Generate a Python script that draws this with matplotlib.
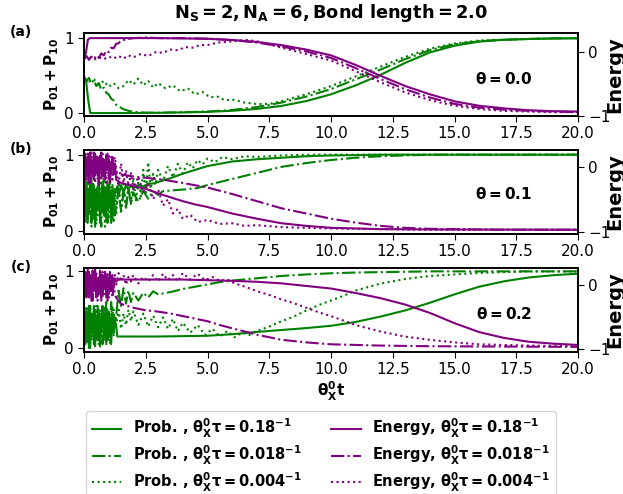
import matplotlib
matplotlib.use("Agg")
import matplotlib.pyplot as plt
from matplotlib.lines import Line2D

plt.rcParams['font.family'] = ['DejaVu Sans']
plt.rcParams['mathtext.default'] = 'bf'

# ---------------- data ----------------
t_early = [0.0, 0.05, 0.1, 0.15, 0.2, 0.25, 0.3, 0.35, 0.4, 0.45, 0.5, 0.55, 0.6, 0.65,
           0.7, 0.75, 0.8, 0.85, 0.9, 0.95, 1.0, 1.05, 1.1, 1.15, 1.2, 1.25, 1.3]

# ---- panel (a), theta = 0.0 ----
a_prob_solid_t = [0, 0.08, 0.16, 0.25, 0.5, 1, 2, 3, 4, 5, 6, 7, 8, 9, 10, 11, 12, 13, 14, 15, 16, 17, 18, 19, 20]
a_prob_solid = [0.48, 0.45, 0.2, 0.0, 0.0, 0.0, 0.0, 0.003, 0.008, 0.015, 0.03, 0.055, 0.095, 0.16, 0.25,
                0.37, 0.51, 0.67, 0.81, 0.9, 0.955, 0.98, 0.99, 0.995, 1.0]
a_prob_dd_t = [0, 0.1, 0.2, 0.3, 0.4, 0.5, 0.6, 0.7, 0.8, 0.9, 1.0, 1.1, 1.2, 1.3, 1.4, 1.6, 1.8, 2.0, 2.5,
               3, 4, 5, 6, 7, 8, 9, 10, 11, 12, 13, 14, 15, 16, 17, 18, 19, 20]
a_prob_dd = [0.48, 0.42, 0.47, 0.40, 0.44, 0.36, 0.40, 0.31, 0.34, 0.27, 0.25, 0.19, 0.17, 0.11, 0.09, 0.05,
             0.03, 0.015, 0.005, 0.003, 0.01, 0.02, 0.04, 0.08, 0.14, 0.22, 0.32, 0.45, 0.58, 0.72, 0.84,
             0.92, 0.96, 0.98, 0.99, 1.0, 1.0]
a_prob_dot_t = [0, 0.2, 0.4, 0.6, 0.8, 1.0, 1.2, 1.4, 1.6, 1.8, 2.0, 2.2, 2.4, 2.6, 2.8, 3.0, 3.3, 3.6, 3.9,
                4.2, 4.5, 4.8, 5.1, 5.4, 5.7, 6.0, 6.5, 7, 7.5, 8, 9, 10, 11, 12, 13, 14, 15, 16, 17, 18, 19, 20]
a_prob_dot = [0.46, 0.42, 0.45, 0.38, 0.43, 0.35, 0.40, 0.33, 0.36, 0.44, 0.38, 0.46, 0.37, 0.43, 0.34, 0.40,
              0.33, 0.37, 0.29, 0.33, 0.25, 0.28, 0.21, 0.22, 0.17, 0.18, 0.14, 0.12, 0.12, 0.16, 0.25, 0.36,
              0.49, 0.62, 0.75, 0.86, 0.93, 0.97, 0.98, 0.99, 1.0, 1.0]
a_en_solid_t = [0, 0.08, 0.16, 0.25, 1, 2, 3, 4, 5, 6, 7, 8, 9, 10, 11, 12, 13, 14, 15, 16, 17, 18, 19, 20]
a_en_solid = [-0.11, 0.0, 0.2, 0.22, 0.22, 0.22, 0.22, 0.215, 0.21, 0.19, 0.16, 0.11, 0.04, -0.05, -0.2,
              -0.37, -0.53, -0.66, -0.77, -0.84, -0.88, -0.91, -0.925, -0.93]
a_en_dd_t = [0, 0.1, 0.2, 0.3, 0.4, 0.5, 0.6, 0.7, 0.8, 0.9, 1.0, 1.1, 1.2, 1.3, 1.4, 1.5, 1.7, 2.0, 2.5,
             3, 4, 5, 6, 7, 8, 9, 10, 11, 12, 13, 14, 15, 16, 17, 18, 19, 20]
a_en_dd = [-0.1, -0.06, -0.12, -0.07, -0.11, -0.05, -0.09, -0.02, -0.05, 0.02, 0.0, 0.07, 0.06, 0.13, 0.14,
           0.18, 0.2, 0.22, 0.23, 0.22, 0.22, 0.21, 0.19, 0.15, 0.09, 0.01, -0.09, -0.25, -0.42, -0.58,
           -0.71, -0.81, -0.87, -0.9, -0.92, -0.93, -0.94]
a_en_dot_t = [0, 0.2, 0.4, 0.6, 0.8, 1.0, 1.2, 1.4, 1.6, 1.8, 2.0, 2.3, 2.6, 2.9, 3.2, 3.5, 3.8, 4.1, 4.4,
              4.7, 5.0, 5.4, 5.8, 6.2, 6.6, 7, 8, 9, 10, 11, 12, 13, 14, 15, 16, 17, 18, 19, 20]
a_en_dot = [-0.1, -0.08, -0.12, -0.08, -0.11, -0.07, -0.1, -0.06, -0.1, -0.05, -0.08, -0.03, -0.06, 0.0,
            -0.01, 0.04, 0.03, 0.08, 0.07, 0.11, 0.11, 0.15, 0.16, 0.18, 0.19, 0.17, 0.07, -0.03, -0.13,
            -0.3, -0.47, -0.63, -0.75, -0.84, -0.89, -0.92, -0.93, -0.94, -0.94]

# ---- panel (b), theta = 0.1 ----
b_prob_solid_t = t_early + [1.35, 1.4, 1.5, 1.6, 1.7, 1.8, 1.9, 2.0, 2.2, 2.4, 2.6, 2.8, 3.0, 3.5, 4, 4.5,
                            5, 5.5, 6, 7, 8, 9, 10, 12, 20]
b_prob_solid = [0.5, 0.2, 0.65, 0.1, 0.55, 0.3, 0.7, 0.15, 0.6, 0.05, 0.5, 0.35, 0.7, 0.1, 0.45, 0.6, 0.2,
                0.55, 0.15, 0.65, 0.3, 0.5, 0.1, 0.6, 0.25, 0.55, 0.5,
                0.58, 0.45, 0.6, 0.5, 0.6, 0.53, 0.6, 0.56, 0.6, 0.58, 0.62, 0.62, 0.64, 0.69, 0.75, 0.8,
                0.85, 0.88, 0.91, 0.94, 0.96, 0.98, 0.99, 1.0, 1.0]
b_prob_dd_t = t_early + [1.4, 1.5, 1.6, 1.7, 1.8, 1.9, 2.0, 2.2, 2.4, 2.6, 2.8, 3.0, 3.2, 4, 4.6, 5, 6, 7,
                         8, 9, 10, 11, 12, 13, 14, 20]
b_prob_dd = [0.4, 0.65, 0.1, 0.5, 0.25, 0.7, 0.05, 0.45, 0.6, 0.15, 0.55, 0.2, 0.65, 0.3, 0.05, 0.5, 0.7,
             0.2, 0.45, 0.1, 0.6, 0.35, 0.55, 0.15, 0.5, 0.2, 0.3,
             0.55, 0.25, 0.5, 0.3, 0.55, 0.35, 0.5, 0.38, 0.52, 0.42, 0.52, 0.47, 0.52, 0.54, 0.56, 0.6,
             0.68, 0.76, 0.84, 0.89, 0.93, 0.96, 0.98, 0.99, 1.0, 1.0]
b_prob_dot_t = t_early + [1.4, 1.5, 1.6, 1.7, 1.8, 1.9, 2.0, 2.1, 2.2, 2.3, 2.4, 2.5, 2.6, 2.7, 2.8, 2.9,
                          3.0, 3.2, 3.4, 3.6, 3.8, 4.0, 4.2, 4.4, 4.6, 4.8, 5.0, 5.3, 5.6, 6.0, 6.5, 7, 8,
                          9, 20]
b_prob_dot = [0.3, 0.1, 0.55, 0.7, 0.2, 0.45, 0.1, 0.65, 0.3, 0.55, 0.08, 0.6, 0.4, 0.15, 0.7, 0.25, 0.5,
              0.05, 0.6, 0.35, 0.15, 0.7, 0.3, 0.45, 0.1, 0.55, 0.2,
              0.6, 0.25, 0.65, 0.3, 0.6, 0.35, 0.7, 0.4, 0.65, 0.45, 0.8, 0.5, 0.9, 0.55, 0.75, 0.6, 0.8,
              0.65, 0.85, 0.7, 0.88, 0.75, 0.9, 0.82, 0.93, 0.87, 0.95, 0.9, 0.97, 0.94, 0.98, 0.97, 0.99,
              1.0, 1.0]
b_en_solid_t = t_early + [1.5, 2.0, 2.5, 3.0, 3.5, 4, 4.5, 5, 5.5, 6, 6.5, 7, 8, 9, 10, 11, 12, 14, 20]
b_en_solid = [0.05, 0.2, -0.15, 0.15, -0.25, 0.22, -0.05, 0.1, -0.2, 0.2, -0.1, 0.15, -0.28, 0.05, 0.22,
              -0.15, 0.1, -0.2, 0.18, -0.05, 0.12, -0.25, 0.0, 0.15, -0.1, 0.05, -0.2,
              -0.25, -0.3, -0.34, -0.41, -0.47, -0.53, -0.58, -0.62, -0.67, -0.72, -0.76, -0.8, -0.87,
              -0.91, -0.94, -0.95, -0.96, -0.965, -0.97]
b_en_dd_t = t_early + [1.5, 2.0, 2.5, 3.2, 4, 5, 6, 7, 8, 9, 10, 11, 12, 13, 14, 15, 17, 20]
b_en_dd = [0.0, -0.2, 0.15, -0.1, 0.2, -0.25, 0.1, -0.15, 0.22, -0.05, 0.15, -0.2, 0.05, 0.18, -0.12, 0.2,
           -0.18, 0.08, -0.05, 0.2, -0.2, 0.1, -0.1, 0.12, -0.15, 0.02, -0.1,
           -0.12, -0.15, -0.17, -0.2, -0.25, -0.32, -0.42, -0.53, -0.64, -0.72, -0.8, -0.86, -0.91,
           -0.94, -0.955, -0.96, -0.97, -0.97]
b_en_dot_t = t_early + [1.4, 1.5, 1.6, 1.7, 1.8, 1.9, 2.0, 2.2, 2.4, 2.6, 2.8, 3.0, 3.2, 3.4, 3.6, 3.8, 4.0,
                        4.3, 4.6, 5.0, 5.5, 6, 6.5, 7, 8, 9, 10, 12, 14, 20]
b_en_dot = [-0.05, 0.1, -0.2, 0.2, -0.1, 0.05, 0.22, -0.15, 0.1, -0.25, 0.18, 0.0, -0.1, 0.2, -0.2, 0.05,
            0.15, -0.08, -0.25, 0.1, 0.2, -0.1, 0.15, -0.2, 0.05, 0.15, 0.0,
            -0.3, 0.05, -0.25, -0.05, -0.3, -0.1, -0.35, -0.15, -0.4, -0.25, -0.5, -0.35, -0.6, -0.5,
            -0.72, -0.65, -0.8, -0.74, -0.85, -0.82, -0.88, -0.87, -0.91, -0.9, -0.93, -0.94, -0.95,
            -0.96, -0.97, -0.97]

# ---- panel (c), theta = 0.2 ----
c_prob_solid_t = t_early + [1.35, 1.5, 2, 3, 4, 5, 6, 7, 8, 9, 10, 11, 12, 13, 14, 15, 16, 17, 18, 19, 20]
c_prob_solid = [0.35, 0.05, 0.5, 0.1, 0.55, 0.0, 0.45, 0.2, 0.55, 0.05, 0.4, 0.1, 0.5, 0.02, 0.3, 0.55, 0.1,
                0.45, 0.05, 0.5, 0.15, 0.4, 0.05, 0.45, 0.2, 0.35, 0.3,
                0.15, 0.15, 0.15, 0.15, 0.155, 0.16, 0.18, 0.21, 0.235, 0.26, 0.29, 0.34, 0.41, 0.49, 0.59,
                0.7, 0.8, 0.87, 0.92, 0.95, 0.97]
c_prob_dd_t = t_early + [1.4, 1.5, 1.6, 1.7, 1.8, 1.9, 2.0, 2.2, 2.4, 2.6, 2.8, 3.0, 3.5, 4, 4.5, 5, 5.5, 6,
                         7, 8, 9, 10, 11, 12, 14, 20]
c_prob_dd = [0.3, 0.5, 0.1, 0.4, 0.0, 0.55, 0.15, 0.35, 0.05, 0.5, 0.25, 0.55, 0.1, 0.45, 0.2, 0.05, 0.5,
             0.3, 0.6, 0.1, 0.45, 0.25, 0.6, 0.2, 0.5, 0.3, 0.4,
             0.75, 0.55, 0.78, 0.58, 0.75, 0.6, 0.72, 0.62, 0.72, 0.66, 0.74, 0.7, 0.73, 0.77, 0.8, 0.83,
             0.86, 0.88, 0.91, 0.94, 0.96, 0.975, 0.985, 0.99, 1.0, 1.0]
c_prob_dot_t = t_early + [1.4, 1.5, 1.6, 1.7, 1.8, 1.9, 2.0, 2.2, 2.4, 2.6, 2.8, 3.0, 3.2, 3.4, 3.6, 3.8,
                          4.0, 4.3, 4.6, 4.9, 5.2, 5.5, 5.8, 6.1, 6.4, 6.7, 7.0, 7.5, 8, 8.5, 9, 9.5, 10,
                          10.5, 11, 12, 13, 14, 15, 16, 17, 18, 20]
c_prob_dot = [0.4, 0.2, 0.55, 0.05, 0.35, 0.5, 0.1, 0.3, 0.45, 0.0, 0.55, 0.25, 0.05, 0.4, 0.5, 0.15, 0.35,
              0.55, 0.1, 0.3, 0.5, 0.05, 0.35, 0.55, 0.15, 0.4, 0.3,
              0.5, 0.25, 0.45, 0.3, 0.5, 0.35, 0.48, 0.3, 0.45, 0.28, 0.42, 0.27, 0.4, 0.25, 0.38, 0.22,
              0.33, 0.2, 0.3, 0.17, 0.25, 0.15, 0.22, 0.14, 0.2, 0.17, 0.22, 0.28, 0.35, 0.41, 0.49, 0.56,
              0.62, 0.68, 0.75, 0.84, 0.9, 0.94, 0.96, 0.98, 0.99, 1.0, 1.0]
c_en_solid_t = t_early + [1.4, 2, 3, 4, 5, 6, 7, 8, 9, 10, 11, 12, 13, 14, 15, 16, 17, 18, 19, 20]
c_en_solid = [0.0, 0.2, -0.15, 0.25, -0.2, 0.15, -0.25, 0.22, -0.1, 0.25, -0.2, 0.1, -0.15, 0.22, -0.25,
              0.15, -0.05, 0.2, -0.2, 0.12, -0.15, 0.2, -0.1, 0.15, -0.05, 0.1, 0.05,
              0.08, 0.08, 0.08, 0.08, 0.07, 0.06, 0.045, 0.02, -0.02, -0.06, -0.13, -0.21, -0.31, -0.44,
              -0.6, -0.74, -0.83, -0.89, -0.92, -0.94]
c_en_dd_t = t_early + [1.5, 2, 2.5, 3, 3.5, 4, 4.5, 5, 5.5, 6, 6.5, 7, 7.5, 8, 9, 10, 12, 14, 20]
c_en_dd = [-0.05, 0.1, -0.2, 0.05, 0.2, -0.15, 0.1, -0.25, 0.15, -0.05, 0.2, -0.2, 0.05, -0.1, 0.18, -0.2,
           0.1, -0.05, 0.15, -0.25, 0.05, -0.1, 0.12, -0.2, 0.0, -0.15, -0.2,
           -0.3, -0.36, -0.4, -0.42, -0.45, -0.49, -0.53, -0.57, -0.63, -0.68, -0.73, -0.78, -0.82,
           -0.86, -0.9, -0.93, -0.95, -0.96, -0.97]
c_en_dot_t = t_early + [1.4, 1.5, 1.6, 1.7, 1.8, 1.9, 2.0, 2.2, 2.4, 2.6, 2.8, 3.0, 3.2, 3.4, 3.6, 3.8, 4.0,
                        4.3, 4.6, 4.9, 5.2, 5.5, 5.8, 6.1, 6.5, 7, 7.5, 8, 8.5, 9, 9.5, 10, 10.5, 11, 12,
                        13, 14, 15, 16, 17, 18, 20]
c_en_dot = [0.1, -0.1, 0.2, -0.2, 0.05, 0.15, -0.15, 0.0, 0.2, -0.1, 0.1, -0.25, 0.15, 0.05, -0.1, 0.2,
            -0.15, 0.1, 0.0, 0.2, -0.2, 0.1, 0.15, -0.1, 0.05, 0.15, 0.0,
            0.18, 0.05, 0.15, 0.0, 0.12, 0.05, 0.15, 0.02, 0.12, 0.05, 0.15, 0.05, 0.17, 0.07, 0.15, 0.05,
            0.18, 0.08, 0.17, 0.07, 0.12, 0.06, 0.08, 0.02, -0.03, -0.1, -0.16, -0.23, -0.29, -0.36,
            -0.43, -0.49, -0.56, -0.63, -0.73, -0.81, -0.86, -0.9, -0.93, -0.94, -0.95, -0.96]

theta_labels = ['0.0', '0.1', '0.2']
panel_letters = ['(a)', '(b)', '(c)']
tau_labels = ['0.18', '0.018', '0.004']
x_ticks = [0.0, 2.5, 5.0, 7.5, 10.0, 12.5, 15.0, 17.5, 20.0]

panels = [
    [(a_prob_solid_t, a_prob_solid), (a_prob_dd_t, a_prob_dd), (a_prob_dot_t, a_prob_dot),
     (a_en_solid_t, a_en_solid), (a_en_dd_t, a_en_dd), (a_en_dot_t, a_en_dot)],
    [(b_prob_solid_t, b_prob_solid), (b_prob_dd_t, b_prob_dd), (b_prob_dot_t, b_prob_dot),
     (b_en_solid_t, b_en_solid), (b_en_dd_t, b_en_dd), (b_en_dot_t, b_en_dot)],
    [(c_prob_solid_t, c_prob_solid), (c_prob_dd_t, c_prob_dd), (c_prob_dot_t, c_prob_dot),
     (c_en_solid_t, c_en_solid), (c_en_dd_t, c_en_dd), (c_en_dot_t, c_en_dot)],
]

# ---------------- layout / style ----------------
W, H = 623, 494
frames = [(33, 116), (150, 234), (268, 352)]  # top, bottom in px
x0, x1 = 84, 578
left_ylims = [(-0.04, 1.07), (-0.046, 1.062), (-0.052, 1.044)]
right_ylims = [(-0.99, 0.30), (-1.035, 0.257), (-1.05, 0.26)]
theta_y = [0.45, 0.475, 0.45]
GREEN = '#008000'
PURPLE = '#800080'
styles = ['-', '-.', ':']
LW = 1.5

fig = plt.figure(figsize=(W / 100, H / 100), dpi=100)

for i, (top, bot) in enumerate(frames):
    ax = fig.add_axes([x0 / W, 1 - bot / H, (x1 - x0) / W, (bot - top) / H])
    ax2 = ax.twinx()
    series = panels[i]
    for k in range(3):
        t, v = series[k]
        ax.plot(t, v, color=GREEN, ls=styles[k], lw=LW)
    for k in range(3):
        t, v = series[3 + k]
        ax2.plot(t, v, color=PURPLE, ls=styles[k], lw=LW)
    ax.set_xlim(0, 20)
    ax.set_ylim(*left_ylims[i])
    ax2.set_ylim(*right_ylims[i])
    ax.set_xticks(x_ticks)
    ax.set_xticklabels([f'{x:.1f}' for x in x_ticks])
    ax.set_yticks([0, 1])
    ax2.set_yticks([-1, 0])
    ax.tick_params(labelsize=11, length=4)
    ax2.tick_params(labelsize=11, length=4)
    for a in (ax, ax2):
        for s in a.spines.values():
            s.set_linewidth(1.2)
    ax.set_ylabel(r'$P_{01} + P_{10}$', fontsize=11, labelpad=2)
    ax2.set_ylabel('Energy', fontsize=14, fontweight='bold')
    ax2.yaxis.set_label_coords((605 - x0) / (x1 - x0), 0.5)
    ax2.text(0.85, theta_y[i], r'$\theta = $' + r'$' + theta_labels[i] + r'$', transform=ax.transAxes,
             fontsize=11, ha='center', va='center')
    fig.text(21 / W, 1 - (top - 1) / H, panel_letters[i], fontsize=10, fontweight='bold',
             ha='center', va='center')
    if i == 2:
        ax.set_xlabel(r'$\theta_X^0 t$', fontsize=11, labelpad=2)

fig.text((x0 + x1) / 2 / W, 1 - 13 / H, r'$N_S = 2, N_A = 6, Bond\ length = 2.0$',
         fontsize=12.8, ha='center', va='center')

handles = []
labels = []
for k in range(3):
    handles.append(Line2D([], [], color=GREEN, ls=styles[k], lw=LW))
    labels.append(r'Prob. , $\theta_X^0\tau = ' + tau_labels[k] + r'^{-1}$')
for k in range(3):
    handles.append(Line2D([], [], color=PURPLE, ls=styles[k], lw=LW))
    labels.append(r'Energy, $\theta_X^0\tau = ' + tau_labels[k] + r'^{-1}$')

fig.legend(handles, labels, ncol=2, loc='upper center', bbox_to_anchor=(321 / W, 1 - 404 / H),
           prop={'weight': 'bold', 'size': 10.5}, columnspacing=2.0, handlelength=2.0,
           labelspacing=0.25)

fig.savefig('out.png', dpi=100)
